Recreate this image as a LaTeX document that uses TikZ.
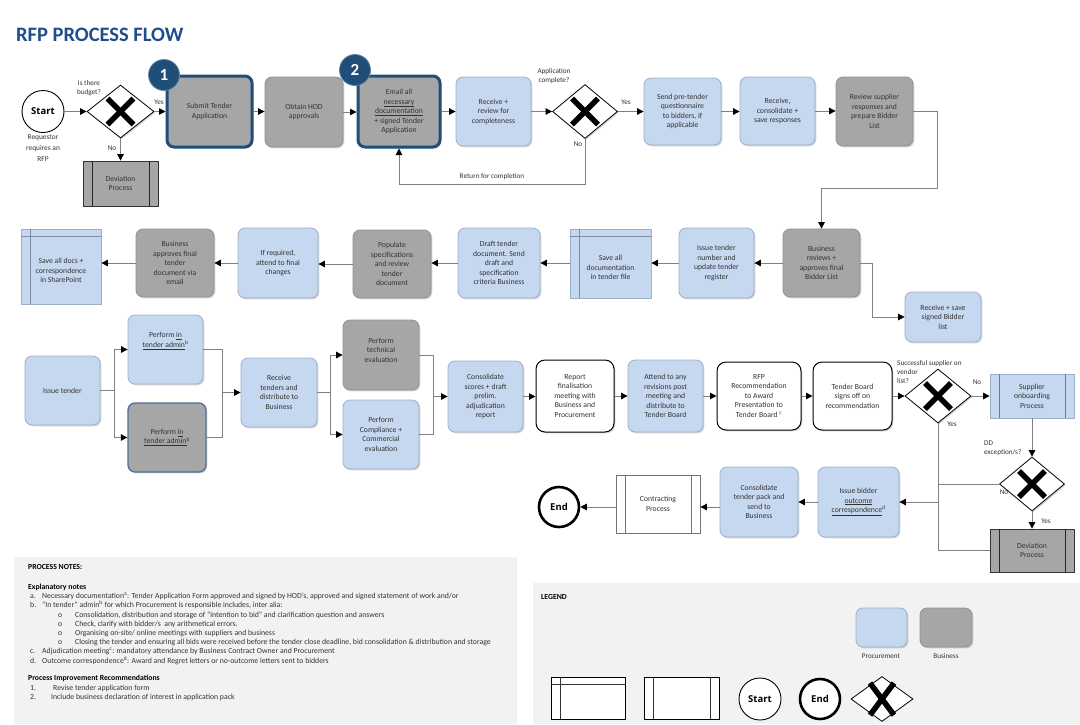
\documentclass[tikz,border=0pt]{standalone}
\usepackage{fontspec}
\setmainfont{Carlito}
\newfontfamily\osans{Open Sans}
\usetikzlibrary{shapes.geometric,arrows.meta,shadows,calc}
\definecolor{lblue}{HTML}{C6D8EF}
\definecolor{lblueb}{HTML}{9DB0CB}
\definecolor{gbox}{HTML}{A6A6A6}
\definecolor{gboxb}{HTML}{929292}
\definecolor{dblue}{HTML}{1F4E79}
\definecolor{ttl}{HTML}{1F4E8A}
\definecolor{panel}{HTML}{F2F2F2}
\definecolor{linec}{HTML}{808080}
\definecolor{txt}{HTML}{333333}
\definecolor{admb}{HTML}{4F6E9C}
\newcommand\bxf{\fontsize{7.7}{9.5}\selectfont}
\newcommand\lbf{\fontsize{7.2}{9}\selectfont}
\newcommand\ntf{\fontsize{7.75}{9.4}\selectfont}
\tikzset{
 shd/.style={drop shadow={shadow xshift=1.3pt, shadow yshift=-1.3pt, opacity=0.28, fill=black!60}},
 box/.style={rounded corners=7pt, line width=0.8pt, align=center, font=\bxf, text=txt, inner sep=1pt, shd},
 pro/.style={box, fill=lblue, draw=lblueb},
 biz/.style={box, fill=gbox, draw=gboxb},
 wht/.style={box, fill=white, draw=black, line width=1pt, rounded corners=9pt},
 sq/.style={sharp corners},
 hl/.style={draw=dblue, line width=3pt},
 plain/.style={draw=black, fill=white, line width=0.9pt, inner sep=0pt},
 dia/.style={diamond, draw=black, fill=white, line width=0.8pt, inner sep=0pt, shd},
 xm/.style={line width=5.5pt, black},
 conn/.style={draw=linec, line width=0.9pt},
 arr/.style={conn, -{Triangle[length=6.5pt, width=6.5pt, color=black]}},
 lbl/.style={font=\lbf, text=txt, inner sep=0pt, align=center},
 badge/.style={circle, fill=dblue, draw=dblue!70, line width=0.8pt, text=white, font=\bfseries\fontsize{17}{17}\selectfont, minimum size=31pt, inner sep=0pt},
 note/.style={font=\ntf, text=black!80, anchor=base west, inner sep=0pt},
 bnote/.style={note, text=black, font=\ntf\bfseries},
 sublines/.style={line width=0.8pt},
}
\newcommand\bx[7]{%
 \pgfmathsetmacro\bxw{#5-#3}\pgfmathsetmacro\bxh{#6-#4}%
 \pgfmathsetmacro\bxcx{(#3+#5)/2}\pgfmathsetmacro\bxcy{(#4+#6)/2}%
 \node[#2, minimum width=\bxw pt, minimum height=\bxh pt] (#1) at (\bxcx,\bxcy) {#7};}
\newcommand\subl[2]{\draw[sublines, draw=#2] ([xshift=9.5pt]#1.north west) -- ([xshift=9.5pt]#1.south west) ([xshift=-9.5pt]#1.north east) -- ([xshift=-9.5pt]#1.south east);}
\newcommand\storl[2]{\draw[sublines, draw=#2] ([xshift=10pt]#1.north west) -- ([xshift=10pt]#1.south west) ([yshift=-8pt]#1.north west) -- ([yshift=-8pt]#1.north east);}
\newcommand\dec[5]{%
 \node[dia, minimum width=#4pt, minimum height=#5pt] (#1) at (#2,#3) {};
 \draw[xm] ($(#1.center)+(-13,-13)$) -- ($(#1.center)+(13,13)$);
 \draw[xm] ($(#1.center)+(13,-13)$) -- ($(#1.center)+(-13,13)$);}
\begin{document}
\begin{tikzpicture}[x=1pt,y=-1pt]
\fill[white] (0,0) rectangle (1080,724);
\useasboundingbox (0,0) rectangle (1080,724);

% title
\node[anchor=base west, inner sep=0pt, font=\bfseries\fontsize{20.5}{24}\selectfont, text=ttl] (title) at (16,41.5) {RFP PROCESS FLOW};

% ---------- row 1 ----------
\node[circle, draw=black, line width=0.9pt, fill=white, minimum size=42pt, inner sep=0pt, font=\osans\bfseries\fontsize{9.5}{11}\selectfont] (start) at (43,111.5) {Start};
\node[lbl, font=\fontsize{7.4}{10.8}\selectfont] (req) at (43,148) {Requestor\\requires an\\RFP};
\dec{d1}{120.5}{111.5}{67}{53}
\node[lbl] (q1) at (89,88) {Is there\\budget?};
\node[lbl] (y1) at (159,102) {Yes};
\node[lbl] (n1) at (112,148) {No};
\bx{dv1}{biz,sq,draw=black!80}{83}{161}{158}{206}{Deviation\\Process}
\subl{dv1}{black!85}
\bx{b1}{biz,hl}{167}{76}{252}{147}{Submit Tender\\Application}
\bx{b2}{biz}{265}{77}{343}{147}{Obtain HOD\\approvals}
\bx{b3}{biz,hl}{358}{76}{440}{147}{Email all\\\underline{necessary}\\\underline{documentation}\\+ signed Tender\\Application}
\bx{b4}{pro}{456}{77}{531}{146}{Receive +\\review for\\completeness}
\dec{d2}{585}{111.5}{65}{54}
\node[lbl] (q2) at (554,76) {Application\\complete?};
\node[lbl] (y2) at (626,102) {Yes};
\node[lbl] (n2) at (578,144) {No};
\bx{b5}{pro}{644}{78}{721}{145}{Send pre-tender\\questionnaire\\to bidders, if\\applicable}
\bx{b6}{pro}{740}{77}{815}{145}{Receive,\\consolidate +\\save responses}
\bx{b7}{biz}{836}{77}{913}{146}{Review supplier\\responses and\\prepare Bidder\\List}
\node[badge] (g1) at (164,75) {1};
\node[badge] (g2) at (355,70) {2};

\draw[arr] (start.east) -- (start.east -| d1.west);
\draw[arr] (d1.east) -- (d1.east -| b1.west);
\draw[arr] (d1.south) -- (d1.south |- dv1.north);
\draw[arr] (b1.east) -- (b1.east -| b2.west);
\draw[arr] (b2.east) -- (b2.east -| b3.west);
\draw[arr] (b3.east) -- (b3.east -| b4.west);
\draw[arr] (b4.east) -- (b4.east -| d2.west);
\draw[arr] (d2.east) -- (d2.east -| b5.west);
\draw[arr] (b5.east) -- (b5.east -| b6.west);
\draw[arr] (b6.east) -- (b6.east -| b7.west);
\coordinate (ret) at (399,184);
\draw[arr] (d2.south) |- (ret) -- (b3.south);
\node[lbl] (rl) at (492,177) {Return for completion};

% ---------- row 2 ----------
\bx{b8}{biz}{783}{229}{860}{297}{Business\\reviews +\\approves final\\Bidder List}
\bx{b9}{pro}{905}{292}{981}{342}{Receive + save\\signed Bidder\\list}
\bx{b10}{pro}{679}{228}{754}{298}{Issue tender\\number and\\update tender\\register}
\bx{b11}{pro,sq}{570}{229}{651}{298}{}
\storl{b11}{lblueb!80!black}
\node[lbl, font=\bxf] (t11) at ($(b11.center)+(0,4)$) {Save all\\documentation\\in tender file};
\bx{b12}{pro}{458}{228}{540}{298}{Draft tender\\document. Send\\draft and\\specification\\criteria Business}
\bx{b13}{biz}{353}{230}{431}{298}{Populate\\specifications\\and review\\tender\\document}
\bx{b14}{pro}{238}{228}{318}{298}{If required,\\attend to final\\changes}
\bx{b15}{biz}{136}{229}{214}{297}{Business\\approves final\\tender\\document via\\email}
\bx{b16}{pro,sq}{21}{229}{101}{304}{}
\storl{b16}{lblueb!80!black}
\node[lbl, font=\bxf] (t16) at ($(b16.center)+(0,4)$) {Save all docs +\\correspondence\\in SharePoint};

\coordinate (c1) at (937,188);
\draw[arr] (b7.east) -| (c1) -| (b8.north);
\draw[arr] (b8.east) -- ++(12,0) |- (b9.west);
\draw[arr] (b8.west) -- (b8.west -| b10.east);
\draw[arr] (b10.west) -- (b10.west -| b11.east);
\draw[arr] (b11.west |- b10.west) -- (b10.west -| b12.east);
\draw[arr] (b12.west) -- (b12.west -| b13.east);
\draw[arr] (b13.west) -- (b13.west -| b14.east);
\draw[arr] (b14.west) -- (b14.west -| b15.east);
\draw[arr] (b15.west) -- (b15.west -| b16.east);

% ---------- row 3 ----------
\bx{it}{pro}{25}{356}{100}{425}{Issue tender}
\bx{ta}{pro}{128}{315}{203}{384}{Perform \underline{in}\\\underline{tender admin}\textsuperscript{b}\\\mbox{}\\\mbox{}}
\bx{ba}{biz,draw=admb,line width=1.3pt}{128}{403}{206}{472}{Perform \underline{in}\\\underline{tender admin}\textsuperscript{b}}
\bx{rt}{pro}{241}{358}{317}{427}{Receive\\tenders and\\distribute to\\Business}
\bx{te}{biz}{343}{320}{419}{390}{Perform\\technical\\evaluation\\\mbox{}}
\bx{ce}{pro}{343}{400}{419}{469}{Perform\\Compliance +\\Commercial\\evaluation}
\bx{cs}{pro}{448}{361}{523}{432}{Consolidate\\scores + draft\\prelim.\\adjudication\\report}
\bx{rp}{wht}{536}{360}{614}{432}{Report\\finalisation\\meeting with\\Business and\\Procurement}
\bx{at}{pro}{628}{360}{703}{432}{Attend to any\\revisions post\\meeting and\\distribute to\\Tender Board}
\bx{rfp}{wht}{717}{362}{801}{430}{RFP\\Recommendation\\to Award\\Presentation to\\Tender Board \textsuperscript{c}}
\bx{tb}{wht}{813}{362}{892}{430}{Tender Board\\signs off on\\recommendation}
\dec{d3}{938}{396}{66}{54}
\node[lbl, align=left, anchor=north west] (q3) at (897,360) {Successful supplier on\\vendor\\list?};
\node[lbl] (n3) at (977,382) {No};
\node[lbl] (y3) at (952,424) {Yes};
\bx{so}{pro,sq}{990}{374}{1074}{418}{Supplier\\onboarding\\Process}
\subl{so}{lblueb!70!black}
\dec{d4}{1032}{484}{65}{54}
\node[lbl, align=left, anchor=north west] (q4) at (984,441) {DD\\exception/s?};
\node[lbl] (n4) at (1004,492) {No};
\node[lbl] (y4) at (1046,521) {Yes};
\bx{dv2}{biz,sq,draw=black!80}{990}{529}{1074}{572}{Deviation\\Process}
\subl{dv2}{black!85}

\draw[conn] (it.east) -- ++(14,0) coordinate (j1);
\draw[arr] (j1) |- (ta.west);
\draw[arr] (j1) |- (ba.west);
\coordinate (j2) at ($(rt.west)+(-18,0)$);
\draw[conn] (ta.east) -| (j2) |- (ba.east);
\draw[arr] (j2) -- (rt.west);
\coordinate (j3) at ($(rt.east)+(13,0)$);
\draw[conn] (rt.east) -- (j3);
\draw[arr] (j3) |- (te.west);
\draw[arr] (j3) |- (ce.west);
\coordinate (j4) at ($(cs.west)+(-14,0)$);
\draw[conn] (te.east) -| (j4) |- (ce.east);
\draw[arr] (j4) -- (cs.west);
\draw[arr] (cs.east) -- (cs.east -| rp.west);
\draw[arr] (rp.east) -- (rp.east -| at.west);
\draw[arr] (at.east) -- (at.east -| rfp.west);
\draw[arr] (rfp.east) -- (rfp.east -| tb.west);
\draw[arr] (tb.east) -- (tb.east -| d3.west);
\draw[arr] (d3.east) -- (d3.east -| so.west);
\draw[arr] (so.south) -- (so.south |- d4.north);
\draw[arr] (d4.south) -- (d4.south |- dv2.north);
\draw[conn] (d3.south) |- (dv2.west);
\draw[conn] (d4.west) -- (d4.west -| d3.south);

% ---------- row 4 ----------
\bx{ib}{pro}{818}{467}{899}{537}{Issue bidder\\\underline{outcome}\\\underline{correspondence}\textsuperscript{d}}
\bx{cp}{pro}{720}{467}{798}{537}{Consolidate\\tender pack and\\send to\\Business}
\bx{ct}{box,sq,fill=white,draw=black!55}{616}{475}{700}{533}{Contracting\\Process}
\subl{ct}{black!55}
\node[circle, draw=black, line width=2.6pt, fill=white, minimum size=40pt, inner sep=0pt, font=\osans\bfseries\fontsize{9.5}{11}\selectfont] (end) at (559,507) {End};
\coordinate (ya) at (0,507);
\draw[arr] (d3.south |- ib.east) -- (ib.east);
\draw[arr] (ib.west) -- (ib.west -| cp.east);
\draw[arr] (cp.west |- ya) -- (ct.east |- ya);
\draw[arr] (ct.west |- end.east) -- (end.east);

% ---------- notes ----------
\fill[panel] (14,557) rectangle (517,724);
\node[bnote] (nh) at (28,569) {PROCESS NOTES:};
\node[bnote] (ne) at (28,589) {Explanatory notes};
\node[note] (na0) at (30,598) {a.};
\node[note] (na) at (42,598) {Necessary documentation\textsuperscript{a}: Tender Application Form approved and signed by HOD’s, approved and signed statement of work and/or};
\node[note] (nb0) at (30,607.5) {b.};
\node[note] (nb) at (42,607.5) {“In tender” admin\textsuperscript{b} for which Procurement is responsible includes, inter alia:};
\node[note] (o1a) at (58,617) {o};
\node[note] (o1) at (75,617) {Consolidation, distribution and storage of “intention to bid” and clarification question and answers};
\node[note] (o2a) at (58,626) {o};
\node[note] (o2) at (75,626) {Check, clarify with bidder/s\ \ any arithmetical errors.};
\node[note] (o3a) at (58,635) {o};
\node[note] (o3) at (75,635) {Organising on-site/ online meetings with suppliers and business};
\node[note] (o4a) at (58,644) {o};
\node[note] (o4) at (75,644) {Closing the tender and ensuring all bids were received before the tender close deadline, bid consolidation \& distribution and storage};
\node[note] (nc0) at (30,653.5) {c.};
\node[note] (nc) at (42,653.5) {Adjudication meeting\textsuperscript{c}: mandatory attendance by Business Contract Owner and Procurement};
\node[note] (nd0) at (30,663) {d.};
\node[note] (nd) at (42,663) {Outcome correspondence\textsuperscript{d}: Award and Regret letters or no-outcome letters sent to bidders};
\node[bnote] (np) at (28,680) {Process Improvement Recommendations};
\node[note] (n10) at (30,690) {1.};
\node[note] (n1t) at (53,690) {Revise tender application form};
\node[note] (n20) at (30,699.5) {2.};
\node[note] (n2t) at (51,699.5) {Include business declaration of interest in application pack};

% ---------- legend ----------
\fill[panel] (533,583) rectangle (1080,724);
\node[bnote] (lg) at (541,599) {LEGEND};
\bx{lgp}{pro}{856}{608}{907}{647}{}
\bx{lgb}{biz}{920}{608}{972}{647}{}
\node[lbl] (lgpt) at (881,656) {Procurement};
\node[lbl] (lgbt) at (946,656) {Business};
\bx{lgs}{plain}{551}{677}{625}{719}{}
\storl{lgs}{black!80}
\bx{lgu}{plain}{644}{677}{719}{719}{}
\subl{lgu}{black!80}
\node[circle, draw=black, line width=0.9pt, fill=white, minimum size=42pt, inner sep=0pt, font=\osans\bfseries\fontsize{9.5}{11}\selectfont] (lst) at (760,699) {Start};
\node[circle, draw=black, line width=2.6pt, fill=white, minimum size=40pt, inner sep=0pt, font=\osans\bfseries\fontsize{9.5}{11}\selectfont] (len) at (820,699) {End};
\node[diamond, draw=black, fill=white, line width=0.8pt, inner sep=0pt, minimum width=62pt, minimum height=45pt] (lgd) at (882,699) {};
\draw[xm] ($(lgd.center)+(-12,-16)$) -- ($(lgd.center)+(12,16)$);
\draw[xm] ($(lgd.center)+(12,-16)$) -- ($(lgd.center)+(-12,16)$);
\end{tikzpicture}
\end{document}
